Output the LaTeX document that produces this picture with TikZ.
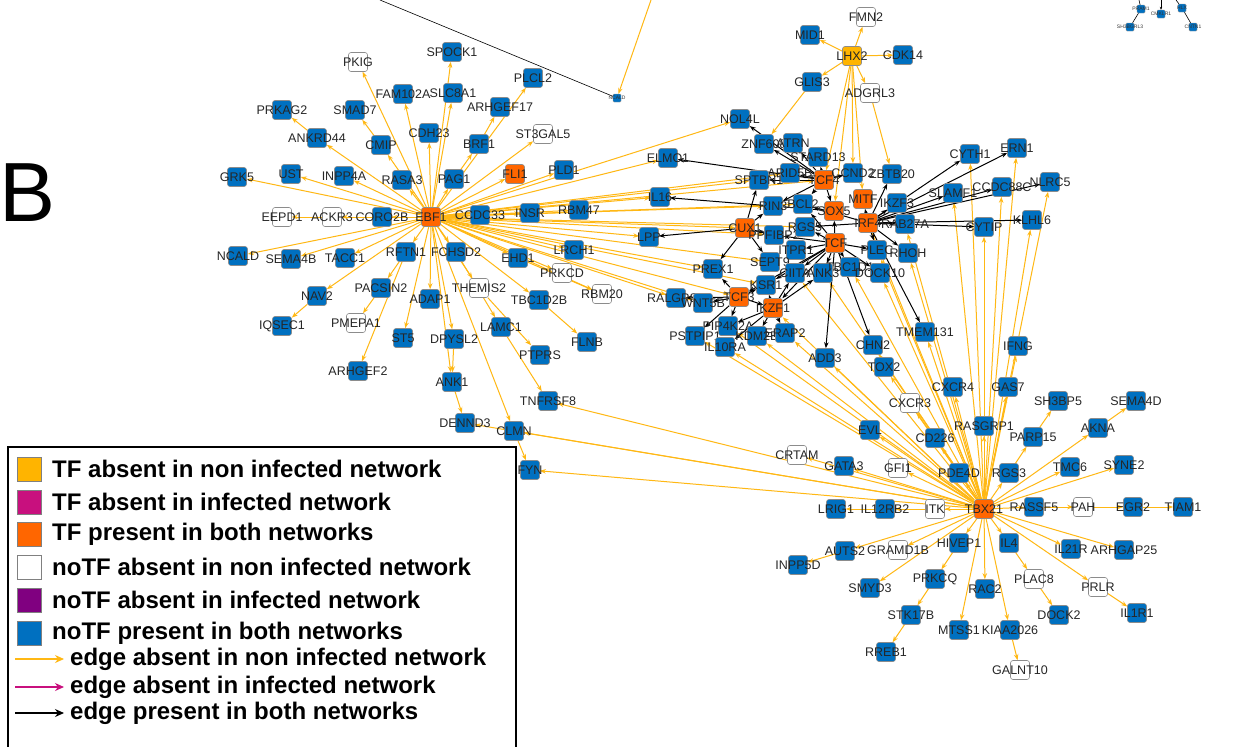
\documentclass[tikz,border=0pt]{standalone}
\usepackage{fontspec}
\setmainfont{Liberation Sans}
\usetikzlibrary{arrows.meta}
\pgfdeclarelayer{back}
\pgfdeclarelayer{bg}
\pgfsetlayers{back,bg,main}
\definecolor{nb}{RGB}{0,112,192}
\definecolor{tfo}{RGB}{255,102,0}
\definecolor{tfy}{RGB}{255,180,0}
\definecolor{eo}{RGB}{255,184,20}
\definecolor{mg}{RGB}{200,16,126}
\definecolor{pu}{RGB}{128,0,128}
\tikzset{
  bx/.style={rounded corners=2.5pt, minimum width=19pt, minimum height=19pt, inner sep=0pt, draw=black!45, line width=0.6pt},
  bn/.style={bx, fill=nb},
  on/.style={bx, fill=tfo},
  wn/.style={bx, fill=white},
  yn/.style={bx, fill=tfy},
  tn/.style={rounded corners=1pt, minimum width=8pt, minimum height=8pt, inner sep=0pt, draw=black!40, line width=0.4pt, fill=nb},
  lb/.style={font=\fontsize{12.5}{13}\selectfont, text=black!85, inner sep=0pt},
  tl/.style={font=\fontsize{5}{5}\selectfont, text=black!80, inner sep=0pt},
  oe/.style={draw=eo, line width=1pt, -{Stealth[length=6pt,width=4.5pt]}},
  be/.style={draw=black, line width=1pt, -{Stealth[length=6pt,width=4.5pt]}},
  te/.style={draw=black, line width=0.6pt},
  lgsq/.style={minimum width=24pt, minimum height=24pt, inner sep=0pt, draw=black!50, line width=0.6pt},
  lgtx/.style={anchor=west, font=\bfseries\fontsize{24}{26}\selectfont, inner sep=0pt},
}
\newcommand\N[4]{\node[#1,label={[lb]center:#4}] (#2) at (#3) {};}
\begin{document}
\begin{tikzpicture}[x=1pt,y=-1pt]
\useasboundingbox (0,0) rectangle (1235,747);
\begin{pgfonlayer}{back}
\fill[white] (0,0) rectangle (1235,747);
\end{pgfonlayer}
% ---------- EBF1 cluster
\N{wn}{PKIG}{358,62}{PKIG}
\N{bn}{SPOCK1}{452,52}{SPOCK1}
\N{bn}{FAM102A}{403,94}{FAM102A}
\N{bn}{SLC8A1}{453,93}{SLC8A1}
\N{bn}{PLCL2}{533,78}{PLCL2}
\N{bn}{ARHGEF17}{500,107}{ARHGEF17}
\N{bn}{PRKAG2}{282,110}{PRKAG2}
\N{bn}{SMAD7}{355,110}{SMAD7}
\N{bn}{ANKRD44}{317,138}{ANKRD44}
\N{bn}{CMIP}{381,145}{CMIP}
\N{bn}{CDH23}{429,133}{CDH23}
\N{bn}{BRF1}{479,144}{BRF1}
\N{wn}{ST3GAL5}{543,134}{ST3GAL5}
\N{bn}{GRK5}{237,177}{GRK5}
\N{bn}{UST}{291,174}{UST}
\N{bn}{INPP4A}{344,176}{INPP4A}
\N{bn}{RASA3}{402,180}{RASA3}
\N{bn}{PAG1}{454,179}{PAG1}
\N{on}{FLI1}{515,174}{FLI1}
\N{bn}{PLD1}{564,170}{PLD1}
\N{wn}{EEPD1}{282,217}{EEPD1}
\N{wn}{ACKR3}{332,217}{ACKR3}
\N{bn}{CORO2B}{382,217}{CORO2B}
\N{on}{EBF1}{431,217}{EBF1}
\N{bn}{CCDC33}{480,215}{CCDC33}
\N{bn}{INSR}{530,213}{INSR}
\N{bn}{RBM47}{579,210}{RBM47}
\N{bn}{NCALD}{238,256}{NCALD}
\N{bn}{SEMA4B}{291,259}{SEMA4B}
\N{bn}{TACC1}{345,258}{TACC1}
\N{bn}{RFTN1}{406,252}{RFTN1}
\N{bn}{FCHSD2}{456,252}{FCHSD2}
\N{bn}{EHD1}{518,258}{EHD1}
\N{bn}{LRCH1}{574,250}{LRCH1}
\N{wn}{PRKCD}{562,273}{PRKCD}
\N{bn}{NAV2}{317,296}{NAV2}
\N{bn}{PACSIN2}{381,288}{PACSIN2}
\N{bn}{ADAP1}{430,299}{ADAP1}
\N{wn}{THEMIS2}{479,288}{THEMIS2}
\N{bn}{TBC1D2B}{539,300}{TBC1D2B}
\N{wn}{RBM20}{602,294}{RBM20}
\N{bn}{IQSEC1}{282,326}{IQSEC1}
\N{wn}{PMEPA1}{356,323}{PMEPA1}
\N{bn}{ST5}{403,338}{ST5}
\N{bn}{DPYSL2}{454,339}{DPYSL2}
\N{bn}{LAMC1}{501,327}{LAMC1}
\N{bn}{PTPRS}{540,355}{PTPRS}
\N{bn}{FLNB}{587,342}{FLNB}
\N{bn}{ARHGEF2}{358,371}{ARHGEF2}
\N{bn}{ANK1}{452,382}{ANK1}
\N{bn}{TNFRSF8}{548,401}{TNFRSF8}
\N{bn}{DENND3}{465,423}{DENND3}
\N{bn}{CLMN}{514,431}{CLMN}
\N{bn}{FYN}{530,470}{FYN}
% ---------- central cluster
\N{bn}{NOL4L}{740,119}{NOL4L}
\N{bn}{ZNF608}{764,144}{ZNF608}
\N{bn}{ATRN}{793,143}{ATRN}
\N{bn}{STARD13}{818,157}{STARD13}
\N{bn}{ELMO1}{668,158}{ELMO1}
\N{bn}{ARID5B}{790,173}{ARID5B}
\N{on}{TCF4}{824,180}{TCF4}
\N{bn}{CCND2}{853,173}{CCND2}
\N{bn}{ZBTB20}{892,174}{ZBTB20}
\N{bn}{SPTBN1}{759,180}{SPTBN1}
\N{on}{MITF}{863,199}{MITF}
\N{bn}{IL16}{660,197}{IL16}
\N{bn}{RIN3}{773,206}{RIN3}
\N{bn}{BCL2}{803,204}{BCL2}
\N{on}{SOX5}{834,211}{SOX5}
\N{on}{IRF4}{868,223}{IRF4}
\N{on}{CUX1}{745,228}{CUX1}
\N{bn}{PPFIBP2}{774,235}{PPFIBP2}
\N{bn}{RGS5}{805,227}{RGS5}
\N{on}{TCF}{835,243}{TCF}
\N{bn}{LPP}{649,237}{LPP}
\N{bn}{ITPR1}{796,250}{ITPR1}
\N{bn}{PLEC}{877,250}{PLEC}
\N{bn}{SEPT9}{770,262}{SEPT9}
\N{bn}{PREX1}{713,269}{PREX1}
\N{bn}{RHOH}{908,253}{RHOH}
\N{bn}{CIITA}{795,273}{CIITA}
\N{bn}{ANK3}{823,273}{ANK3}
\N{bn}{TBC1D1}{850,267}{TBC1D1}
\N{bn}{DOCK10}{880,273}{DOCK10}
\N{bn}{KSR1}{766,285}{KSR1}
\N{on}{TCF3}{739,297}{TCF3}
\N{bn}{RALGPS2}{676,298}{RALGPS2}
\N{bn}{WNT5B}{703,303}{WNT5B}
\N{on}{IKZF1}{773,308}{IKZF1}
\N{bn}{PIP4K2A}{728,326}{PIP4K2A}
\N{bn}{PSTPIP1}{695,336}{PSTPIP1}
\N{bn}{KDM2B}{757,336}{KDM2B}
\N{bn}{ERAP2}{785,333}{ERAP2}
\N{bn}{IL10RA}{725,347}{IL10RA}
\N{bn}{ADD3}{825,358}{ADD3}
\N{bn}{CHN2}{873,345}{CHN2}
\N{bn}{TOX2}{884,367}{TOX2}
\N{bn}{TMEM131}{925,332}{TMEM131}
% ---------- right
\N{bn}{CYTH1}{970,154}{CYTH1}
\N{bn}{ERN1}{1017,148}{ERN1}
\N{bn}{NLRC5}{1050,182}{NLRC5}
\N{bn}{SLAMF1}{953,193}{SLAMF1}
\N{bn}{CCDC88C}{1002,187}{CCDC88C}
\N{bn}{IKZF3}{897,203}{IKZF3}
\N{bn}{RAB27A}{905,224}{RAB27A}
\N{bn}{CYTIP}{984,227}{CYTIP}
\N{bn}{KLHL6}{1032,220}{KLHL6}
% ---------- TBX21 cluster
\N{bn}{IFNG}{1018,346}{IFNG}
\N{bn}{CXCR4}{953,387}{CXCR4}
\N{bn}{GAS7}{1008,387}{GAS7}
\N{wn}{CXCR3}{910,403}{CXCR3}
\N{bn}{RASGRP1}{984,426}{RASGRP1}
\N{bn}{EVL}{870,430}{EVL}
\N{bn}{CD226}{935,438}{CD226}
\N{wn}{CRTAM}{797,455}{CRTAM}
\N{bn}{GATA3}{844,466}{GATA3}
\N{wn}{GFI1}{898,468}{GFI1}
\N{bn}{PDE4D}{959,473}{PDE4D}
\N{bn}{RGS3}{1009,473}{RGS3}
\N{bn}{PARP15}{1033,437}{PARP15}
\N{bn}{SH3BP5}{1058,401}{SH3BP5}
\N{bn}{SEMA4D}{1136,401}{SEMA4D}
\N{bn}{AKNA}{1098,428}{AKNA}
\N{bn}{TMC6}{1070,467}{TMC6}
\N{bn}{SYNE2}{1124,465}{SYNE2}
\N{bn}{LRIG1}{836,509}{LRIG1}
\N{bn}{IL12RB2}{885,509}{IL12RB2}
\N{wn}{ITK}{935,509}{ITK}
\N{on}{TBX21}{984,509}{TBX21}
\N{bn}{RASSF5}{1034,507}{RASSF5}
\N{wn}{PAH}{1083,507}{PAH}
\N{bn}{EGR2}{1133,507}{EGR2}
\N{bn}{TIAM1}{1183,507}{TIAM1}
\N{bn}{AUTS2}{845,551}{AUTS2}
\N{wn}{GRAMD1B}{898,550}{GRAMD1B}
\N{bn}{HIVEP1}{959,543}{HIVEP1}
\N{bn}{IL4}{1009,543}{IL4}
\N{bn}{IL21R}{1071,549}{IL21R}
\N{bn}{ARHGAP25}{1124,550}{ARHGAP25}
\N{bn}{INPP5D}{798,565}{INPP5D}
\N{bn}{SMYD3}{870,588}{SMYD3}
\N{bn}{PRKCQ}{935,579}{PRKCQ}
\N{bn}{RAC2}{985,589}{RAC2}
\N{wn}{PLAC8}{1034,579}{PLAC8}
\N{wn}{PRLR}{1098,587}{PRLR}
\N{bn}{STK17B}{911,615}{STK17B}
\N{bn}{DOCK2}{1059,615}{DOCK2}
\N{bn}{IL1R1}{1137,613}{IL1R1}
\N{bn}{MTSS1}{959,630}{MTSS1}
\N{bn}{KIAA2026}{1010,630}{KIAA2026}
\N{bn}{RREB1}{886,652}{RREB1}
\N{wn}{GALNT10}{1020,670}{GALNT10}
% ---------- LHX2
\N{wn}{FMN2}{866,17}{FMN2}
\N{bn}{MID1}{810,35}{MID1}
\N{yn}{LHX2}{852,56}{LHX2}
\N{bn}{CDK14}{903,55}{CDK14}
\N{bn}{GLIS3}{812,82}{GLIS3}
\N{wn}{ADGRL3}{870,93}{ADGRL3}
% ---------- tiny nodes
\node[tn,label={[tl]center:NCALD}] (ncs) at (617,98) {};
\node[tn,label={[tl]center:PRAM1}] (PRAM1) at (1141,9) {};
\node[tn,label={[tl]center:CMKLR1}] (CMKLR1) at (1161,14) {};
\node[tn,label={[tl]center:HLX}] (HLX) at (1182,8) {};
\node[tn,label={[tl]center:SH3BGRL3}] (SH3BGRL3) at (1130,27) {};
\node[tn,label={[tl]center:CNTN1}] (CNTN1) at (1193,27) {};
\coordinate (ta) at (380,0);
\coordinate (tb) at (651,0);
\coordinate (tc) at (1139,0);
\coordinate (td) at (1161,0);
\coordinate (te) at (1176,0);
% ---------- edges
\begin{pgfonlayer}{bg}
\foreach \t in {PKIG,SPOCK1,FAM102A,SLC8A1,PLCL2,ANKRD44,CMIP,CDH23,PAG1,ST3GAL5,GRK5,UST,INPP4A,RASA3,FLI1,PLD1,EEPD1,ACKR3,CORO2B,CCDC33,INSR,RBM47,NCALD,SEMA4B,TACC1,RFTN1,FCHSD2,EHD1,LRCH1,PRKCD,NAV2,ADAP1,ST5,DPYSL2,ANK1,THEMIS2,TBC1D2B,RBM20,CLMN,IL16,LPP,ELMO1,NOL4L,SPTBN1,ARID5B,TCF4,RIN3,CUX1,PPFIBP2,PREX1,RALGPS2,KSR1,TCF3,SEPT9,BCL2,WNT5B,RGS5}
  \draw[oe] (EBF1) -- (\t);
\draw[oe] (ANKRD44) -- (PRKAG2);
\draw[oe] (CMIP) -- (SMAD7);
\draw[oe] (PAG1) -- (BRF1);
\draw[oe] (BRF1) -- (ARHGEF17);
\draw[oe] (RFTN1) -- (PACSIN2);
\draw[oe] (PACSIN2) -- (PMEPA1);
\draw[oe] (NAV2) -- (IQSEC1);
\draw[oe] (RFTN1) -- (ARHGEF2);
\draw[oe] (DPYSL2) -- (ANK1);
\draw[oe] (ANK1) -- (DENND3);
\draw[oe] (CLMN) -- (FYN);
\draw[oe] (FCHSD2) -- (LAMC1);
\draw[oe] (THEMIS2) -- (PTPRS);
\draw[oe] (LAMC1) -- (TNFRSF8);
\draw[oe] (TBC1D2B) -- (FLNB);
\draw[oe] (EHD1) -- (RBM20);
% LHX2
\foreach \t in {FMN2,MID1,CDK14,GLIS3,ADGRL3,TCF4,SOX5,MITF,CCND2}
  \draw[oe] (LHX2) -- (\t);
\draw[oe] (GLIS3) -- (ZNF608);
\draw[oe] (ADGRL3) -- (ZBTB20);
\draw[oe] (tb) -- (ncs);
\draw[te] (ta) -- (ncs);
% TBX21
\foreach \t in {IL12RB2,ITK,GATA3,CRTAM,GFI1,EVL,CD226,CXCR3,TOX2,CHN2,ADD3,TMEM131,CXCR4,IFNG,GAS7,RASGRP1,PDE4D,RGS3,AKNA,TMC6,SYNE2,RASSF5,AUTS2,GRAMD1B,SMYD3,HIVEP1,MTSS1,RAC2,IL4,KIAA2026,IL21R,ARHGAP25,PRLR,CYTH1,ERN1,NLRC5,SLAMF1,CCDC88C,KLHL6,CYTIP,RAB27A,RHOH,PLEC,DOCK10,TBC1D1,IRF4,KDM2B,ERAP2,IL10RA,PSTPIP1,PIP4K2A,CIITA,ANK3,TNFRSF8,CLMN,FYN,IKZF1,DENND3}
  \draw[oe] (TBX21) -- (\t);
\draw[oe] (IL12RB2) -- (LRIG1);
\draw[oe] (RGS3) -- (PARP15);
\draw[oe] (PARP15) -- (SH3BP5);
\draw[oe] (AKNA) -- (SEMA4D);
\draw[oe] (RASSF5) -- (PAH);
\draw[oe] (PAH) -- (EGR2);
\draw[oe] (EGR2) -- (TIAM1);
\draw[oe] (AUTS2) -- (INPP5D);
\draw[oe] (HIVEP1) -- (PRKCQ);
\draw[oe] (PRKCQ) -- (STK17B);
\draw[oe] (STK17B) -- (RREB1);
\draw[oe] (IL4) -- (PLAC8);
\draw[oe] (PLAC8) -- (DOCK2);
\draw[oe] (KIAA2026) -- (GALNT10);
\draw[oe] (PRLR) -- (IL1R1);
% black edges
\foreach \t in {NOL4L,ZNF608,ATRN,STARD13,ARID5B,SPTBN1,ELMO1,BCL2,RIN3,CCND2,SOX5}
  \draw[be] (TCF4) -- (\t);
\draw[be] (SOX5) -- (IL16);
\foreach \t in {IKZF3,SLAMF1,CYTH1,ERN1,CCDC88C,NLRC5,CYTIP,KLHL6,RAB27A,RHOH,PLEC,ZBTB20,BCL2,RGS5,TMEM131,MITF}
  \draw[be] (IRF4) -- (\t);
\foreach \t in {ITPR1,CIITA,ANK3,TBC1D1,DOCK10,PLEC,KSR1,IKZF1,RGS5,PPFIBP2,ADD3,CHN2,SOX5,TCF3,BCL2}
  \draw[be] (TCF) -- (\t);
\foreach \t in {LPP,PREX1,SEPT9,RIN3,SPTBN1,PPFIBP2}
  \draw[be] (CUX1) -- (\t);
\foreach \t in {RALGPS2,WNT5B,PREX1,KSR1,PIP4K2A,PSTPIP1,IKZF1}
  \draw[be] (TCF3) -- (\t);
\foreach \t in {KDM2B,ERAP2,PIP4K2A,CIITA,KSR1,ANK3,IL10RA}
  \draw[be] (IKZF1) -- (\t);
% tiny network
\draw[te] (tc) -- (PRAM1);
\draw[te,-{Stealth[length=3pt,width=2.5pt]}] (td) -- (CMKLR1);
\draw[te] (te) -- (HLX);
\draw[te] (PRAM1) -- (SH3BGRL3);
\draw[te] (HLX) -- (CNTN1);
\end{pgfonlayer}
% ---------- B
\node[font=\fontsize{84}{84}\selectfont, inner sep=0pt] (Blab) at (28,193) {B};
% ---------- legend
\draw[line width=1.2pt, fill=white] (8,447) rectangle (516,760);
\node[lgsq,fill=tfy] (l1) at (29,469) {};
\node[lgtx] (t1) at (52,469) {TF absent in non infected network};
\node[lgsq,fill=mg] (l2) at (29,502) {};
\node[lgtx] (t2) at (52,502) {TF absent in infected network};
\node[lgsq,fill=tfo] (l3) at (29,534) {};
\node[lgtx] (t3) at (52,534) {TF present in both networks};
\node[lgsq,fill=white] (l4) at (29,567) {};
\node[lgtx] (t4) at (52,567) {noTF absent in non infected network};
\node[lgsq,fill=pu] (l5) at (29,600) {};
\node[lgtx] (t5) at (52,600) {noTF absent in infected network};
\node[lgsq,fill=nb] (l6) at (29,633) {};
\node[lgtx] (t6) at (52,633) {noTF present in both networks};
\coordinate (a1) at (15,659); \coordinate (b1) at (64,659);
\coordinate (a2) at (15,687); \coordinate (b2) at (64,687);
\coordinate (a3) at (15,713); \coordinate (b3) at (64,713);
\draw[line width=1.2pt, draw=eo, -{Stealth[length=9pt,width=8pt]}] (a1) -- (b1);
\draw[line width=1.2pt, draw=mg, -{Stealth[length=9pt,width=8pt]}] (a2) -- (b2);
\draw[line width=1.2pt, draw=black, -{Stealth[length=9pt,width=8pt]}] (a3) -- (b3);
\node[lgtx] (t7) at (70,659) {edge absent in non infected network};
\node[lgtx] (t8) at (70,687) {edge absent in infected network};
\node[lgtx] (t9) at (70,713) {edge present in both networks};
\end{tikzpicture}
\end{document}
